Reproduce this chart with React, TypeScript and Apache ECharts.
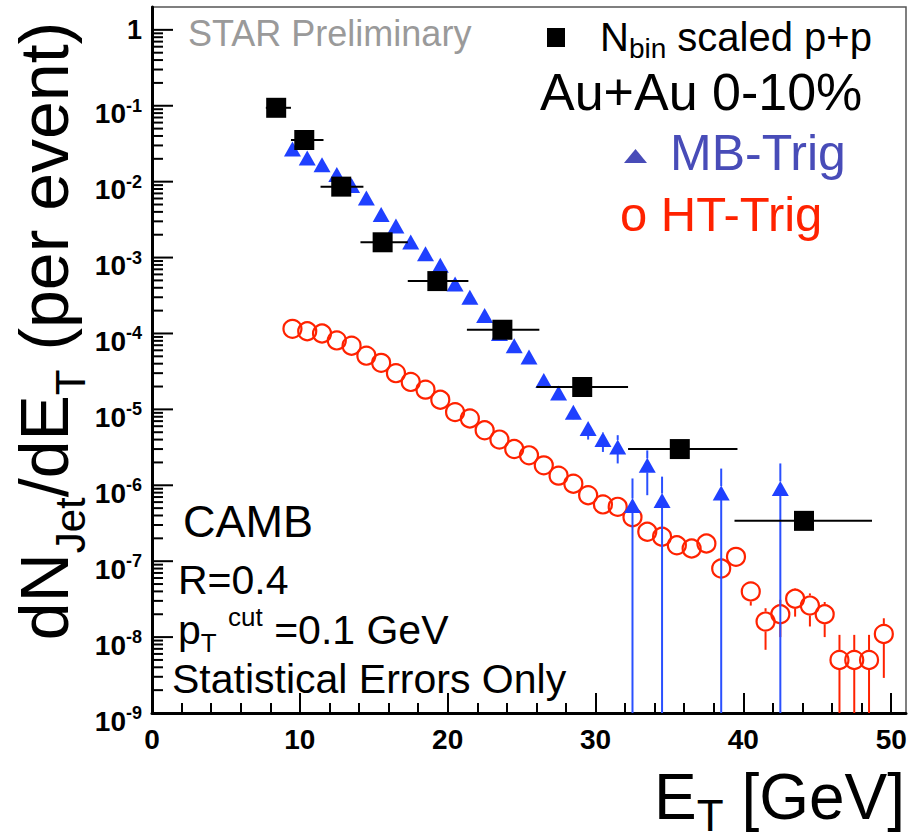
import React, { useEffect, useRef } from 'react';
import * as echarts from 'echarts';

const FONT = "'Liberation Sans', Arial, Helvetica, sans-serif";

// N_bin scaled p+p (black squares) with horizontal bin widths
const ppE = [8.4, 10.3, 12.8, 15.6, 19.3, 23.7, 29.1, 35.7, 44.1];
const ppVal = [0.094, 0.0354, 8.6e-3, 1.59e-3, 4.9e-4, 1.12e-4, 1.97e-5, 3.0e-6, 3.4e-7];
const ppELow = [7.7, 9.4, 11.4, 14.1, 17.3, 21.3, 26.0, 32.2, 39.4];
const ppEHigh = [9.4, 11.6, 14.3, 17.3, 21.4, 26.2, 32.2, 39.6, 48.7];

// Au+Au 0-10% MB-Trig (blue triangles)
const mbE = [9.5, 10.5, 11.5, 12.5, 13.5, 14.5, 15.5, 16.5, 17.5, 18.5, 19.5, 20.5, 21.5, 22.5, 23.5, 24.5, 25.5, 26.5, 27.5, 28.5, 29.5, 30.5, 31.5, 32.5, 33.5, 34.5, 38.5, 42.5];
const mbVal = [0.027, 0.0205, 0.0167, 0.0124, 8.9e-3, 6.1e-3, 3.7e-3, 2.6e-3, 1.6e-3, 1.12e-3, 7.9e-4, 4.5e-4, 3.0e-4, 1.73e-4, 1.0e-4, 6.9e-5, 4.9e-5, 2.4e-5, 1.64e-5, 9.2e-6, 5.6e-6, 4.0e-6, 3.2e-6, 5.4e-7, 1.83e-6, 6.3e-7, 7.9e-7, 9.1e-7];
const mbHigh = [null, null, null, null, null, null, null, null, null, null, null, null, null, null, null, null, null, null, null, 1.1e-5, 6.8e-6, 5.0e-6, 4.57e-6, 1.23e-6, 2.88e-6, 1.3e-6, 1.66e-6, 1.94e-6];
const mbLow = [null, null, null, null, null, null, null, null, null, null, null, null, null, null, null, null, null, null, null, 7.4e-6, 4.0e-6, 2.75e-6, 1.94e-6, 1e-9, 7.4e-7, 1e-9, 1e-9, 1e-9];

// Au+Au 0-10% HT-Trig (red open circles)
const htE = [9.5, 10.5, 11.5, 12.5, 13.5, 14.5, 15.5, 16.5, 17.5, 18.5, 19.5, 20.5, 21.5, 22.5, 23.5, 24.5, 25.5, 26.5, 27.5, 28.5, 29.5, 30.5, 31.5, 32.5, 33.5, 34.5, 35.5, 36.5, 37.5, 38.5, 39.5, 40.5, 41.5, 42.5, 43.5, 44.5, 45.5, 46.5, 47.5, 48.5, 49.5];
const htVal = [1.15e-4, 1.07e-4, 1.0e-4, 8.1e-5, 6.9e-5, 5.1e-5, 4.1e-5, 3.0e-5, 2.3e-5, 1.82e-5, 1.34e-5, 9.2e-6, 7.6e-6, 5.3e-6, 4.0e-6, 3.0e-6, 2.48e-6, 1.83e-6, 1.34e-6, 1.05e-6, 7.4e-7, 5.6e-7, 5.2e-7, 3.8e-7, 2.44e-7, 2.1e-7, 1.62e-7, 1.47e-7, 1.71e-7, 8.0e-8, 1.14e-7, 4.0e-8, 1.6e-8, 2.0e-8, 3.2e-8, 2.6e-8, 2.0e-8, 5.0e-9, 5.0e-9, 5.0e-9, 1.1e-8];
const htHigh = [null, null, null, null, null, null, null, null, null, null, null, null, null, null, null, null, null, null, null, null, null, null, null, null, null, null, null, null, null, 1.1e-7, null, 5.3e-8, 2.4e-8, 3.1e-8, 4.4e-8, 3.76e-8, 2.9e-8, 1.07e-8, 1.07e-8, 1.07e-8, 1.77e-8];
const htLow = [null, null, null, null, null, null, null, null, null, null, null, null, null, null, null, null, null, null, null, null, null, null, null, null, null, null, null, null, null, 6.0e-8, null, 2.6e-8, 6.8e-9, 1.0e-8, 1.86e-8, 1.38e-8, 1.0e-8, 1e-9, 1e-9, 1e-9, 2.9e-9];

// axes
const xTickLabels = [0, 10, 20, 30, 40, 50];
const yTickLabels = [1e-9, 1e-8, 1e-7, 1e-6, 1e-5, 1e-4, 1e-3, 1e-2, 1e-1, 1];
const yMinorMultipliers = [2, 3, 4, 5, 6, 7, 8, 9];

const BLUE = '#1f40ff';
const BLUE_BAR = '#2a50ff';
const RED = '#ff2200';
const LEG_BLUE = '#484cb8';

function errRender(gap: number, color: string) {
  return (params: any, api: any) => {
    const x = api.value(0);
    const y = api.value(1);
    const lo = api.value(2);
    const hi = api.value(3);
    const c = api.coord([x, y]);
    const t = api.coord([x, hi]);
    const b = api.coord([x, lo]);
    const children: any[] = [];
    if (t[1] < c[1] - gap) {
      children.push({ type: 'line', shape: { x1: c[0], y1: t[1], x2: c[0], y2: c[1] - gap }, style: { stroke: color, lineWidth: 2 } });
    }
    if (b[1] > c[1] + gap) {
      children.push({ type: 'line', shape: { x1: c[0], y1: c[1] + gap, x2: c[0], y2: b[1] }, style: { stroke: color, lineWidth: 2 } });
    }
    return { type: 'group', children };
  };
}

function sub(fontSize: number, h: number) {
  return { fontSize, height: h, lineHeight: h, fontFamily: FONT, fill: '#000', verticalAlign: 'bottom' };
}
function sup(fontSize: number, h: number) {
  return { fontSize, height: h, lineHeight: h, fontFamily: FONT, fill: '#000', verticalAlign: 'top' };
}
function main(fontSize: number) {
  return { fontSize, height: fontSize, lineHeight: fontSize, fontFamily: FONT, fill: '#000', verticalAlign: 'middle' };
}

export default function App() {
  const ref = useRef<HTMLDivElement>(null);
  useEffect(() => {
    document.body.style.margin = '0';
    const chart = echarts.init(ref.current!, null, { renderer: 'svg' });

    const yTicks: number[][] = [];
    yTickLabels.forEach((d) => {
      yTicks.push([0, d, 1]);
      if (d < 1) yMinorMultipliers.forEach((m) => yTicks.push([0, d * m, 0]));
    });

    const mbErr = mbE
      .map((e, i) => (mbHigh[i] != null ? [e, mbVal[i], mbLow[i], mbHigh[i]] : null))
      .filter((d) => d);
    const htErr = htE
      .map((e, i) => (htHigh[i] != null ? [e, htVal[i], htLow[i], htHigh[i]] : null))
      .filter((d) => d);

    const option: any = {
      animation: false,
      backgroundColor: '#fff',
      grid: {
        left: 152, top: 7, right: 16, bottom: 127,
        show: true, borderColor: '#555', borderWidth: 1.5, backgroundColor: 'transparent',
      },
      xAxis: {
        type: 'value', min: 0, max: 51, interval: 10,
        axisLine: { lineStyle: { color: '#000', width: 3 } },
        axisTick: { inside: true, length: 20, lineStyle: { color: '#000', width: 2 }, customValues: xTickLabels },
        minorTick: { show: true, splitNumber: 5, length: 10, lineStyle: { color: '#000', width: 2 } },
        axisLabel: {
          customValues: xTickLabels, color: '#000', fontSize: 28, fontWeight: 'bold', fontFamily: FONT, margin: 12,
        },
        splitLine: { show: false },
      },
      yAxis: {
        type: 'log', logBase: 10, min: 1e-9, max: 2,
        axisLine: { lineStyle: { color: '#000', width: 3 } },
        axisTick: { show: false },
        minorTick: { show: false },
        splitLine: { show: false },
        axisLabel: {
          customValues: yTickLabels,
          margin: 10,
          formatter: (v: number) => {
            const e = Math.round(Math.log10(v));
            if (e === 0) return '{one|1}';
            return `{b|10}{s|${e}}`;
          },
          rich: {
            one: { fontSize: 27, fontWeight: 'bold', fontFamily: FONT, color: '#000', lineHeight: 27, height: 27 },
            b: { fontSize: 28, fontWeight: 'bold', fontFamily: FONT, color: '#000', lineHeight: 26, height: 26, verticalAlign: 'bottom' },
            s: { fontSize: 18, fontWeight: 'bold', fontFamily: FONT, color: '#000', lineHeight: 42, height: 42, verticalAlign: 'middle' },
          },
        },
      },
      series: [
        {
          type: 'custom', name: 'yticks', silent: true, z: 10,
          data: yTicks,
          renderItem: (params: any, api: any) => {
            const p = api.coord([api.value(0), api.value(1)]);
            const len = api.value(2) ? 21 : 11;
            return { type: 'line', shape: { x1: p[0], y1: p[1], x2: p[0] + len, y2: p[1] }, style: { stroke: '#000', lineWidth: 2 } };
          },
        },
        {
          type: 'custom', name: 'HT err', silent: true, z: 3,
          data: htErr,
          renderItem: errRender(10, RED),
        },
        {
          type: 'scatter', name: 'HT-Trig', z: 4,
          symbol: 'circle', symbolSize: 18,
          itemStyle: { color: 'rgba(0,0,0,0)', borderColor: RED, borderWidth: 2.2, opacity: 1 },
          data: htE.map((e, i) => [e, htVal[i]]),
        },
        {
          type: 'custom', name: 'MB err', silent: true, z: 5,
          data: mbErr,
          renderItem: errRender(7, BLUE_BAR),
        },
        {
          type: 'scatter', name: 'MB-Trig', z: 6,
          symbol: 'triangle', symbolSize: [17, 15],
          itemStyle: { color: BLUE, opacity: 1 },
          data: mbE.map((e, i) => [e, mbVal[i]]),
        },
        {
          type: 'custom', name: 'pp bins', silent: true, z: 7,
          data: ppE.map((e, i) => [ppELow[i], ppEHigh[i], ppVal[i]]),
          renderItem: (params: any, api: any) => {
            const a = api.coord([api.value(0), api.value(2)]);
            const b = api.coord([api.value(1), api.value(2)]);
            return { type: 'line', shape: { x1: a[0], y1: a[1], x2: b[0], y2: b[1] }, style: { stroke: '#000', lineWidth: 2 } };
          },
        },
        {
          type: 'scatter', name: 'Nbin scaled p+p', z: 8,
          symbol: 'rect', symbolSize: 20,
          itemStyle: { color: '#000', opacity: 1 },
          data: ppE.map((e, i) => [e, ppVal[i]]),
        },
      ],
      graphic: [
        {
          type: 'text', x: 188, y: 33,
          style: { text: 'STAR Preliminary', fill: '#9a9a9a', fontSize: 36, fontFamily: FONT, align: 'left', verticalAlign: 'middle' },
        },
        { type: 'rect', shape: { x: 547, y: 28, width: 18, height: 19 }, style: { fill: '#000' } },
        {
          type: 'text', x: 600, y: 37,
          style: {
            text: '{n|N}{s|bin}{n| scaled p+p}', align: 'left', verticalAlign: 'middle',
            rich: { n: main(40), s: sub(28, 18) },
          },
        },
        {
          type: 'text', x: 540, y: 92,
          style: { text: 'Au+Au 0-10%', fill: '#000', fontSize: 52, fontFamily: FONT, align: 'left', verticalAlign: 'middle' },
        },
        { type: 'polygon', shape: { points: [[624, 163], [647, 163], [635.5, 149]] }, style: { fill: LEG_BLUE } },
        {
          type: 'text', x: 670, y: 152.5,
          style: { text: 'MB-Trig', fill: LEG_BLUE, fontSize: 50, fontFamily: FONT, align: 'left', verticalAlign: 'middle' },
        },
        {
          type: 'text', x: 620, y: 214,
          style: { text: 'o HT-Trig', fill: RED, fontSize: 49, fontFamily: FONT, align: 'left', verticalAlign: 'middle' },
        },
        {
          type: 'text', x: 183, y: 521,
          style: { text: 'CAMB', fill: '#000', fontSize: 45, fontFamily: FONT, align: 'left', verticalAlign: 'middle' },
        },
        {
          type: 'text', x: 178, y: 580,
          style: { text: 'R=0.4', fill: '#000', fontSize: 41, fontFamily: FONT, align: 'left', verticalAlign: 'middle' },
        },
        {
          type: 'text', x: 178, y: 630,
          style: {
            text: '{n|p}{s|T}{n| }{u|cut}{n| =0.1 GeV}', align: 'left', verticalAlign: 'middle',
            rich: { n: main(41), s: sub(26, 16), u: sup(26, 14) },
          },
        },
        {
          type: 'text', x: 172, y: 679,
          style: { text: 'Statistical Errors Only', fill: '#000', fontSize: 41, fontFamily: FONT, align: 'left', verticalAlign: 'middle' },
        },
        {
          type: 'text', x: 905, y: 797,
          style: {
            text: '{n|E}{s|T}{n| [GeV]}', align: 'right', verticalAlign: 'middle',
            rich: { n: main(64), s: sub(44, 28) },
          },
        },
        {
          type: 'text', x: 44, y: 331, rotation: Math.PI / 2,
          style: {
            text: '{n|dN}{s|Jet}{n|/dE}{s|T}{n| (per event)}', align: 'center', verticalAlign: 'middle',
            rich: { n: main(68), s: sub(42, 16) },
          },
        },
      ],
    };
    chart.setOption(option);
    return () => chart.dispose();
  }, []);
  return <div ref={ref} style={{ width: 922, height: 840 }} />;
}
